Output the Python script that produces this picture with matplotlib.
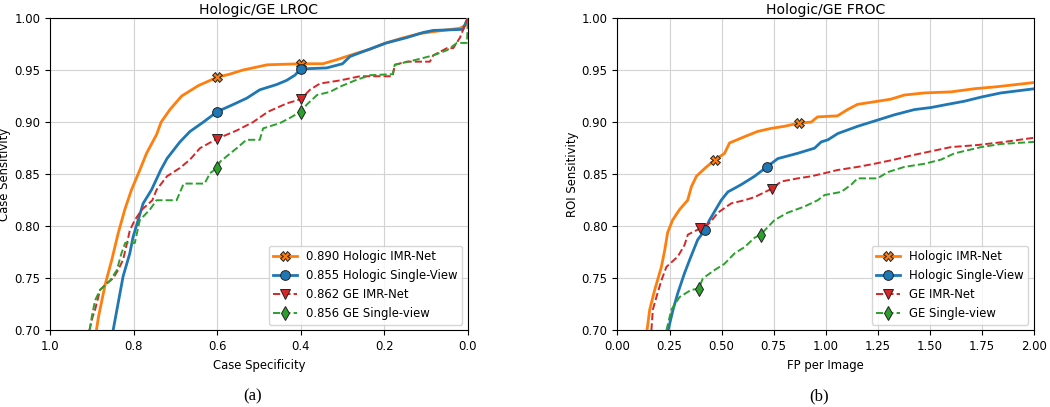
import matplotlib
matplotlib.use('Agg')
import matplotlib.pyplot as plt

plt.rcParams['font.size'] = 8.4

# ---- LROC (left): case specificity vs case sensitivity ----
lroc_hol_imr_spec = [0.889, 0.884, 0.868, 0.852, 0.837, 0.821, 0.805, 0.785, 0.769, 0.745, 0.734, 0.713,
                     0.685, 0.645, 0.6, 0.57, 0.538, 0.48, 0.4, 0.347, 0.313, 0.275, 0.234, 0.203, 0.163,
                     0.115, 0.06, 0.02, 0.005, 0.0]
lroc_hol_imr_sens = [0.70, 0.713, 0.744, 0.768, 0.793, 0.816, 0.835, 0.854, 0.87, 0.888, 0.90, 0.912,
                     0.925, 0.935, 0.943, 0.946, 0.95, 0.955, 0.956, 0.956, 0.96, 0.965, 0.97, 0.975, 0.98,
                     0.985, 0.988, 0.99, 0.993, 1.0]

lroc_hol_sv_spec = [0.849, 0.837, 0.825, 0.809, 0.801, 0.789, 0.777, 0.757, 0.735, 0.72, 0.689, 0.665,
                    0.633, 0.6, 0.561, 0.529, 0.498, 0.458, 0.434, 0.414, 0.4, 0.338, 0.3, 0.282, 0.242,
                    0.195, 0.147, 0.107, 0.083, 0.012, 0.0]
lroc_hol_sv_sens = [0.70, 0.726, 0.752, 0.774, 0.79, 0.806, 0.822, 0.835, 0.854, 0.865, 0.881, 0.891,
                    0.90, 0.91, 0.917, 0.923, 0.931, 0.936, 0.94, 0.945, 0.951, 0.952, 0.956, 0.963, 0.969,
                    0.976, 0.981, 0.986, 0.988, 0.989, 1.0]

lroc_ge_imr_spec = [0.906, 0.898, 0.892, 0.88, 0.865, 0.849, 0.837, 0.825, 0.815, 0.809, 0.797, 0.78,
                    0.755, 0.745, 0.72, 0.689, 0.665, 0.641, 0.6, 0.553, 0.514, 0.478, 0.433, 0.4, 0.378,
                    0.354, 0.306, 0.258, 0.18, 0.175, 0.146, 0.091, 0.083, 0.05, 0.035, 0.019, 0.01, 0.0]
lroc_ge_imr_sens = [0.70, 0.713, 0.72, 0.739, 0.745, 0.75, 0.758, 0.768, 0.785, 0.796, 0.806, 0.816,
                    0.825, 0.835, 0.848, 0.856, 0.864, 0.875, 0.884, 0.892, 0.90, 0.91, 0.918, 0.922, 0.931,
                    0.937, 0.94, 0.944, 0.944, 0.955, 0.958, 0.958, 0.964, 0.971, 0.971, 0.981, 0.99, 1.0]

lroc_ge_sv_spec = [0.905, 0.9, 0.892, 0.88, 0.856, 0.84, 0.829, 0.82, 0.797, 0.785, 0.761, 0.745, 0.697,
                   0.68, 0.63, 0.617, 0.6, 0.593, 0.553, 0.53, 0.498, 0.49, 0.45, 0.426, 0.4, 0.385, 0.361,
                   0.33, 0.306, 0.27, 0.234, 0.18, 0.175, 0.122, 0.083, 0.05, 0.026, 0.002, 0.0]
lroc_ge_sv_sens = [0.70, 0.713, 0.729, 0.739, 0.748, 0.758, 0.774, 0.784, 0.784, 0.806, 0.816, 0.825,
                   0.825, 0.841, 0.841, 0.851, 0.856, 0.862, 0.875, 0.883, 0.883, 0.894, 0.899, 0.904, 0.91,
                   0.917, 0.926, 0.929, 0.934, 0.94, 0.945, 0.946, 0.955, 0.96, 0.964, 0.969, 0.976, 0.976,
                   1.0]

# operating points marked on the LROC curves
lroc_mark_spec = [0.6, 0.4]
lroc_mark_hol_imr = [0.943, 0.956]
lroc_mark_hol_sv = [0.91, 0.951]
lroc_mark_ge_imr = [0.884, 0.922]
lroc_mark_ge_sv = [0.856, 0.91]

lroc_auc = ['0.890', '0.855', '0.862', '0.856']

# ---- FROC (right): FP per image vs ROI sensitivity ----
froc_hol_imr_fp = [0.142, 0.155, 0.179, 0.211, 0.227, 0.241, 0.265, 0.298, 0.337, 0.355, 0.379, 0.427,
                   0.47, 0.514, 0.538, 0.61, 0.672, 0.738, 0.802, 0.869, 0.93, 0.96, 1.056, 1.104, 1.152,
                   1.248, 1.312, 1.377, 1.473, 1.6, 1.712, 1.823, 2.0]
froc_hol_imr_sens = [0.70, 0.72, 0.739, 0.761, 0.777, 0.794, 0.806, 0.816, 0.825, 0.838, 0.848, 0.857,
                     0.864, 0.87, 0.88, 0.886, 0.891, 0.894, 0.896, 0.899, 0.90, 0.905, 0.906, 0.912, 0.917,
                     0.92, 0.922, 0.926, 0.928, 0.929, 0.932, 0.934, 0.938]

froc_hol_sv_fp = [0.243, 0.267, 0.29, 0.322, 0.347, 0.385, 0.418, 0.442, 0.498, 0.53, 0.594, 0.658, 0.717,
                  0.77, 0.864, 0.946, 0.978, 1.01, 1.057, 1.153, 1.249, 1.329, 1.425, 1.505, 1.583, 1.664,
                  1.745, 1.84, 2.0]
froc_hol_sv_sens = [0.70, 0.72, 0.736, 0.755, 0.768, 0.787, 0.796, 0.806, 0.825, 0.833, 0.84, 0.848, 0.857,
                    0.865, 0.87, 0.875, 0.881, 0.883, 0.889, 0.896, 0.902, 0.907, 0.912, 0.914, 0.917, 0.92,
                    0.924, 0.928, 0.932]

froc_ge_imr_fp = [0.163, 0.17, 0.187, 0.211, 0.235, 0.29, 0.322, 0.338, 0.398, 0.442, 0.482, 0.546, 0.61,
                  0.658, 0.74, 0.786, 0.866, 0.93, 0.994, 1.056, 1.153, 1.233, 1.329, 1.41, 1.505, 1.6,
                  1.728, 1.856, 2.0]
froc_ge_imr_sens = [0.70, 0.72, 0.732, 0.748, 0.761, 0.771, 0.782, 0.792, 0.798, 0.803, 0.813, 0.822,
                    0.825, 0.828, 0.836, 0.843, 0.846, 0.848, 0.851, 0.854, 0.857, 0.86, 0.864, 0.868,
                    0.872, 0.876, 0.878, 0.881, 0.885]

froc_ge_sv_fp = [0.235, 0.259, 0.298, 0.354, 0.39, 0.41, 0.466, 0.514, 0.562, 0.61, 0.658, 0.687, 0.754,
                 0.816, 0.898, 0.961, 0.994, 1.074, 1.122, 1.152, 1.248, 1.297, 1.377, 1.473, 1.553, 1.617,
                 1.681, 1.745, 1.84, 2.0]
froc_ge_sv_sens = [0.70, 0.72, 0.732, 0.739, 0.74, 0.75, 0.758, 0.764, 0.774, 0.78, 0.789, 0.792, 0.806,
                   0.813, 0.819, 0.825, 0.83, 0.833, 0.84, 0.846, 0.846, 0.852, 0.857, 0.86, 0.864, 0.87,
                   0.873, 0.876, 0.879, 0.881]

froc_mark_hol_imr = ([0.47, 0.869], [0.864, 0.899])
froc_mark_hol_sv = ([0.418, 0.717], [0.796, 0.857])
froc_mark_ge_imr = ([0.398, 0.74], [0.798, 0.836])
froc_mark_ge_sv = ([0.39, 0.687], [0.74, 0.792])

names = ['Hologic IMR-Net', 'Hologic Single-View', 'GE IMR-Net', 'GE Single-view']
colors = ['#ff7f0e', '#1f77b4', '#d62728', '#2ca02c']
markers = ['X', 'o', 'v', 'd']
styles = ['-', '-', '--', '--']
widths = [2.0, 2.0, 1.4, 1.4]

fig = plt.figure(figsize=(10.5, 4.07), dpi=100)
ax1 = fig.add_axes([0.0476, 0.188, 0.398, 0.768])
ax2 = fig.add_axes([0.588, 0.188, 0.397, 0.768])


def draw(ax, curves, marks, labels):
    for i, ((x, y), (mx, my)) in enumerate(zip(curves, marks)):
        ax.plot(x, y, color=colors[i], ls=styles[i], lw=widths[i], zorder=3)
        ax.plot(mx, my, ls='none', marker=markers[i], ms=7, color=colors[i],
                markeredgecolor='#222222', markeredgewidth=0.7, zorder=4)
        # legend handle: line + marker
        ax.plot([], [], color=colors[i], ls=styles[i], lw=widths[i], marker=markers[i], ms=7,
                markeredgecolor='#222222', markeredgewidth=0.7, label=labels[i])
    ax.set_ylim(0.70, 1.00)
    ax.set_yticks([0.70, 0.75, 0.80, 0.85, 0.90, 0.95, 1.00])
    ax.yaxis.set_major_formatter(matplotlib.ticker.FormatStrFormatter('%.2f'))
    ax.grid(True, color='#d3d3d3', lw=0.8)
    ax.set_axisbelow(True)
    ax.legend(loc='lower right', numpoints=1)


draw(ax1,
     [(lroc_hol_imr_spec, lroc_hol_imr_sens), (lroc_hol_sv_spec, lroc_hol_sv_sens),
      (lroc_ge_imr_spec, lroc_ge_imr_sens), (lroc_ge_sv_spec, lroc_ge_sv_sens)],
     [(lroc_mark_spec, lroc_mark_hol_imr), (lroc_mark_spec, lroc_mark_hol_sv),
      (lroc_mark_spec, lroc_mark_ge_imr), (lroc_mark_spec, lroc_mark_ge_sv)],
     [a + ' ' + n for a, n in zip(lroc_auc, names)])
ax1.set_xlim(1.0, 0.0)
ax1.set_xticks([1.0, 0.8, 0.6, 0.4, 0.2, 0.0])
ax1.set_title('Hologic/GE LROC', pad=3)
ax1.set_xlabel('Case Specificity')
ax1.set_ylabel('Case Sensitivity', labelpad=2)

draw(ax2,
     [(froc_hol_imr_fp, froc_hol_imr_sens), (froc_hol_sv_fp, froc_hol_sv_sens),
      (froc_ge_imr_fp, froc_ge_imr_sens), (froc_ge_sv_fp, froc_ge_sv_sens)],
     [froc_mark_hol_imr, froc_mark_hol_sv, froc_mark_ge_imr, froc_mark_ge_sv],
     names)
ax2.set_xlim(0.0, 2.0)
ax2.set_xticks([0.0, 0.25, 0.5, 0.75, 1.0, 1.25, 1.5, 1.75, 2.0])
ax2.xaxis.set_major_formatter(matplotlib.ticker.FormatStrFormatter('%.2f'))
ax2.set_title('Hologic/GE FROC', pad=3)
ax2.set_xlabel('FP per Image')
ax2.set_ylabel('ROI Sensitivity', labelpad=2)

fig.text(253 / 1050, 1 - 396 / 407, '(a)', family='Liberation Serif', fontsize=12, ha='center', va='center')
fig.text(819 / 1050, 1 - 396 / 407, '(b)', family='Liberation Serif', fontsize=12, ha='center', va='center')

fig.savefig('out.png', dpi=100)
